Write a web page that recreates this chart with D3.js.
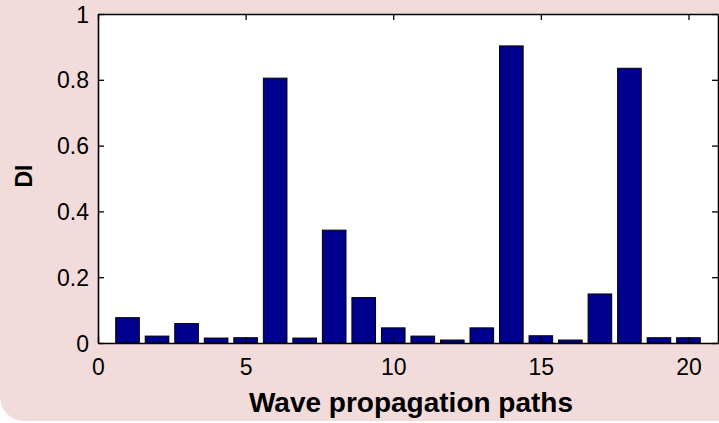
<!DOCTYPE html>
<html><head><meta charset="utf-8">
<script src="https://cdn.jsdelivr.net/npm/d3@7"></script>
<style>html,body{margin:0;padding:0;background:#fff;overflow:hidden}svg{display:block}</style>
</head><body>
<svg id="c" width="719" height="423"></svg>
<script>
const paths = d3.range(1, 21);
const diValues = [0.077, 0.021, 0.059, 0.015, 0.016, 0.805, 0.015, 0.343, 0.138, 0.046,
                  0.021, 0.009, 0.046, 0.903, 0.022, 0.009, 0.149, 0.835, 0.016, 0.016];
const xTicks = [0, 5, 10, 15, 20];
const yTicks = [0, 0.2, 0.4, 0.6, 0.8, 1];
const yTickLabels = ["0", "0.2", "0.4", "0.6", "0.8", "1"];
const xLabel = "Wave propagation paths";
const yLabel = "DI";

const svg = d3.select("#c");
const L = 98, R = 718, T = 14, B = 343;
const x = d3.scaleLinear().domain([0, 21]).range([L, R]);
const y = d3.scaleLinear().domain([0, 1]).range([B, T]);

// pink background panel
svg.append("rect").attr("x", 0).attr("y", -40).attr("width", 780).attr("height", 461)
  .attr("rx", 24).attr("fill", "#f2dcdb");

// plot area
svg.append("rect").attr("x", L).attr("y", T).attr("width", R - L).attr("height", B - T)
  .attr("fill", "#fff");

const bw = x(0.8) - x(0);
svg.append("g").selectAll("rect").data(paths).join("rect")
  .attr("x", (d) => x(d) - bw / 2)
  .attr("y", (d, i) => y(diValues[i]))
  .attr("width", bw)
  .attr("height", (d, i) => y(0) - y(diValues[i]))
  .attr("fill", "#00008f").attr("stroke", "#000").attr("stroke-width", 1);

const font = "'Liberation Sans', Arial, sans-serif";
// axes
const xb = svg.append("g").attr("transform", `translate(0,${B})`)
  .call(d3.axisBottom(x).tickValues(xTicks).tickFormat(d3.format("d")).tickSizeInner(-6).tickSizeOuter(0).tickPadding(16));
const xt = svg.append("g").attr("transform", `translate(0,${T})`)
  .call(d3.axisTop(x).tickValues(xTicks).tickFormat("").tickSizeInner(-6).tickSizeOuter(0));
const yl = svg.append("g").attr("transform", `translate(${L},0)`)
  .call(d3.axisLeft(y).tickValues(yTicks).tickFormat((d, i) => yTickLabels[i]).tickSizeInner(-6).tickSizeOuter(0).tickPadding(9));
const yr = svg.append("g").attr("transform", `translate(${R},0)`)
  .call(d3.axisRight(y).tickValues(yTicks).tickFormat("").tickSizeInner(-6).tickSizeOuter(0));
[xb, xt, yl, yr].forEach(g => {
  g.select(".domain").attr("stroke", "#000").attr("stroke-width", 1.6);
  g.selectAll(".tick line").attr("stroke", "#000").attr("stroke-width", 1.3);
  g.selectAll("text").attr("font-family", font).attr("font-size", 23).attr("fill", "#000");
});
xb.selectAll("text").attr("dy", "0.71em");
yl.selectAll("text").attr("dy", "0.35em");

svg.append("text").attr("x", 411).attr("y", 412).attr("text-anchor", "middle")
  .attr("font-family", font).attr("font-weight", "bold").attr("font-size", 28).text(xLabel);
svg.append("text").attr("transform", "translate(32,176) rotate(-90)").attr("text-anchor", "middle")
  .attr("font-family", font).attr("font-weight", "bold").attr("font-size", 23).text(yLabel);
</script>
</body></html>
